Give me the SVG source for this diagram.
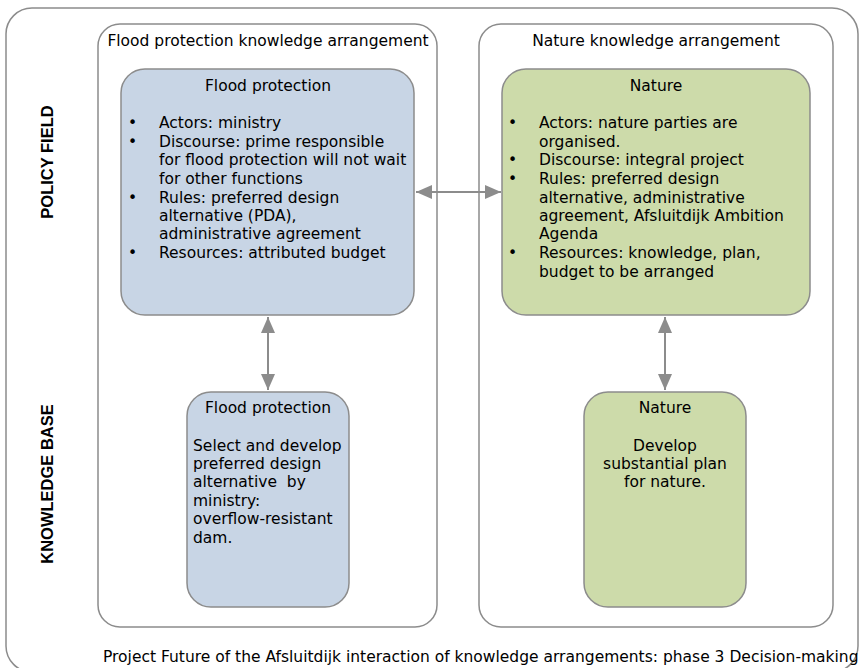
<svg xmlns="http://www.w3.org/2000/svg" width="861" height="668" viewBox="0 0 861 668">
<defs>
<marker id="ah" viewBox="0 0 16 14" refX="16" refY="7" markerWidth="16" markerHeight="14" markerUnits="userSpaceOnUse" orient="auto-start-reverse">
<path d="M0,0 L16,7 L0,14 z" fill="#8c8c8c"/>
</marker>
<style>
.frame{fill:#fff;stroke:#8c8c8c;stroke-width:1.5}
.blue{fill:#c8d5e5;stroke:#8c8c8c;stroke-width:1.5}
.green{fill:#cddbaa;stroke:#8c8c8c;stroke-width:1.5}
text{font-family:"DejaVu Sans","Verdana",sans-serif;font-size:15.5px;fill:#000}
.side{font-family:"Liberation Sans",Arial,sans-serif;font-weight:bold;font-size:16.5px}
.mid{text-anchor:middle}
.conn{stroke:#8c8c8c;stroke-width:2;fill:none}
</style>
</defs>
<rect width="861" height="668" fill="#fff"/>
<rect class="frame" x="6" y="8" width="852" height="664" rx="26"/>
<g id="side-labels">
<text class="side mid" transform="translate(53,162) rotate(-90)">POLICY FIELD</text>
<text class="side mid" transform="translate(53,484) rotate(-90)">KNOWLEDGE BASE</text>
</g>
<g id="flood-arrangement">
<rect class="frame" x="98" y="24" width="339" height="603" rx="22"/>
<text class="mid" x="268" y="46">Flood protection knowledge arrangement</text>
</g>
<g id="nature-arrangement">
<rect class="frame" x="479" y="24" width="354" height="603" rx="22"/>
<text class="mid" x="656" y="46">Nature knowledge arrangement</text>
</g>
<g id="flood-policy">
<rect class="blue" x="121" y="69" width="293" height="246" rx="24"/>
<text class="mid" x="268" y="91">Flood protection</text>
<g>
<text x="128" y="128">•</text><text x="159" y="128">Actors: ministry</text>
<text x="128" y="147">•</text><text x="159" y="147">Discourse: prime responsible</text>
<text x="159" y="165">for flood protection will not wait</text>
<text x="159" y="184">for other functions</text>
<text x="128" y="203">•</text><text x="159" y="203">Rules: preferred design</text>
<text x="159" y="221">alternative (PDA),</text>
<text x="159" y="239">administrative agreement</text>
<text x="128" y="258">•</text><text x="159" y="258">Resources: attributed budget</text>
</g>
</g>
<g id="nature-policy">
<rect class="green" x="502" y="69" width="308" height="246" rx="24"/>
<text class="mid" x="656" y="91">Nature</text>
<g>
<text x="508" y="128">•</text><text x="539" y="128">Actors: nature parties are</text>
<text x="539" y="147">organised.</text>
<text x="508" y="165">•</text><text x="539" y="165">Discourse: integral project</text>
<text x="508" y="184">•</text><text x="539" y="184">Rules: preferred design</text>
<text x="539" y="203">alternative, administrative</text>
<text x="539" y="221">agreement, Afsluitdijk Ambition</text>
<text x="539" y="239">Agenda</text>
<text x="508" y="258">•</text><text x="539" y="258">Resources: knowledge, plan,</text>
<text x="539" y="277">budget to be arranged</text>
</g>
</g>
<g id="flood-kb">
<rect class="blue" x="187" y="392" width="162" height="215" rx="24"/>
<text class="mid" x="268" y="413">Flood protection</text>
<text x="193" y="451">Select and develop</text>
<text x="193" y="469">preferred design</text>
<text x="193" y="487" xml:space="preserve">alternative  by</text>
<text x="193" y="506">ministry:</text>
<text x="193" y="524">overflow-resistant</text>
<text x="193" y="543">dam.</text>
</g>
<g id="nature-kb">
<rect class="green" x="584" y="392" width="162" height="215" rx="24"/>
<text class="mid" x="665" y="413">Nature</text>
<text class="mid" x="665" y="451">Develop</text>
<text class="mid" x="665" y="469">substantial plan</text>
<text class="mid" x="665" y="487">for nature.</text>
</g>
<g id="connectors">
<line class="conn" x1="268" y1="317" x2="268" y2="390" marker-start="url(#ah)" marker-end="url(#ah)"/>
<line class="conn" x1="665" y1="317" x2="665" y2="390" marker-start="url(#ah)" marker-end="url(#ah)"/>
<line class="conn" x1="416" y1="192" x2="501" y2="192" marker-start="url(#ah)" marker-end="url(#ah)"/>
</g>
<text id="caption" x="103" y="662">Project Future of the Afsluitdijk interaction of knowledge arrangements: phase 3 Decision-making</text>
</svg>
